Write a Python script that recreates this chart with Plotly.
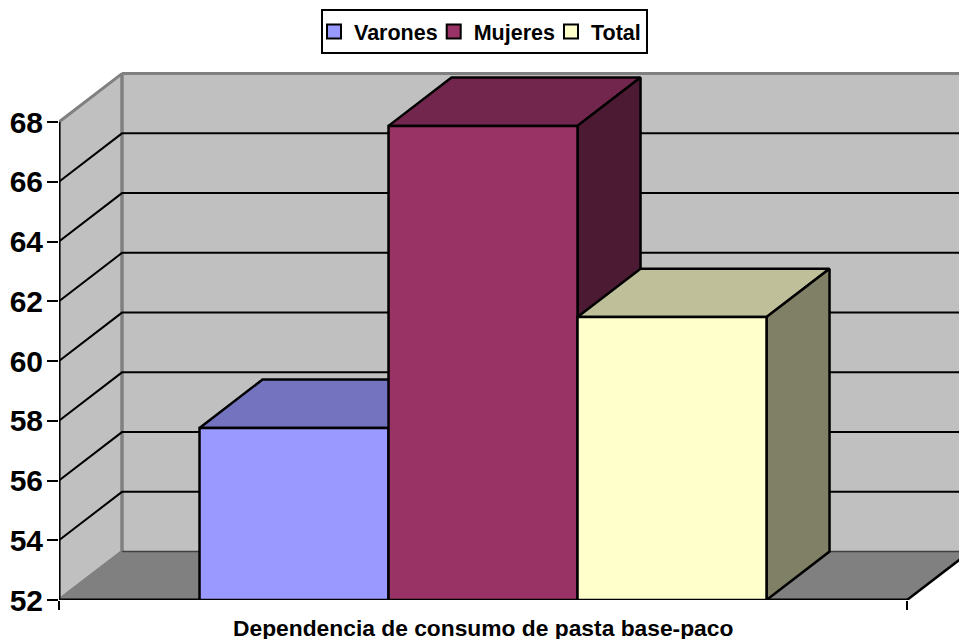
import plotly.graph_objects as go

# Data
series = ["Varones", "Mujeres", "Total"]
values = [57.76, 67.87, 61.47]
category = ["Dependencia de consumo de pasta base-paco"]
y_ticks = [52, 54, 56, 58, 60, 62, 64, 66, 68]

# Style
front_colors = ["#9999FF", "#993366", "#FFFFCC"]
top_colors = ["#7373BF", "#73264D", "#BFBF99"]
side_colors = ["#4D4D80", "#4D1A33", "#808066"]

# Scale of the fake 3-D box, in axis units
BASE = 52
AXIS_END = 4.487
X_MAX = 900 / 189
Y_MAX = 52 + 540 / 29.875
DX = 63 / 189
DY = 48.4 / 29.875
BAR_W = 1.0
FIRST = (AXIS_END - len(values) * BAR_W) / 2

fig = go.Figure()


def poly(xs, ys, fill, line="black", width=2.5):
    fig.add_trace(go.Scatter(
        x=xs + xs[:1], y=ys + ys[:1], mode="lines", fill="toself", fillcolor=fill,
        line=dict(color=line, width=width), showlegend=False, hoverinfo="skip",
        cliponaxis=False))


def seg(xs, ys, color="black", width=2):
    fig.add_trace(go.Scatter(
        x=xs, y=ys, mode="lines", line=dict(color=color, width=width),
        showlegend=False, hoverinfo="skip", cliponaxis=False))


top = y_ticks[-1]
# Back wall, left wall, floor
poly([DX, X_MAX + 0.3, X_MAX + 0.3, DX], [top + DY, top + DY, BASE + DY, BASE + DY], "#C0C0C0", "#C0C0C0", 0)
poly([0, DX, DX, 0], [BASE, BASE + DY, top + DY, top], "#C0C0C0", "#808080", 3)
poly([0, DX, AXIS_END + DX, AXIS_END], [BASE, BASE + DY, BASE + DY, BASE], "#808080", "#808080", 1)
seg([DX, X_MAX + 0.3], [top + DY, top + DY], "#808080", 3)
seg([DX, DX], [BASE + DY, top + DY], "#808080", 3)
seg([DX, X_MAX + 0.3], [BASE + DY, BASE + DY], "#404040", 1.5)
seg([0, DX], [BASE, BASE + DY], "#808080", 3)

# Gridlines on both walls
for t in y_ticks[1:-1]:
    seg([0, DX, X_MAX + 0.3], [t, t + DY, t + DY])

# Floor right edge and front axes
seg([AXIS_END, AXIS_END + DX], [BASE, BASE + DY], "black", 2.5)
seg([0, 0], [BASE, top], "black", 3)
seg([0, AXIS_END], [BASE, BASE], "black", 3)

# Bars
for i, v in enumerate(values):
    l = FIRST + i * BAR_W
    r = l + BAR_W
    poly([l, l + DX, r + DX, r], [v, v + DY, v + DY, v], top_colors[i])
    poly([r, r + DX, r + DX, r], [BASE, BASE + DY, v + DY, v], side_colors[i])
    poly([l, r, r, l], [BASE, BASE, v, v], front_colors[i])

# Legend entries
for name, c in zip(series, front_colors):
    fig.add_trace(go.Scatter(
        x=[None], y=[None], mode="markers", name=name,
        marker=dict(symbol="square", size=14, color=c, line=dict(color="black", width=2))))

fig.update_layout(
    width=959, height=639,
    margin=dict(l=59, r=0, t=60, b=39, pad=0),
    paper_bgcolor="white", plot_bgcolor="white",
    font=dict(family="Liberation Sans", color="black"),
    xaxis=dict(range=[0, X_MAX], tickvals=[0, AXIS_END], ticktext=["", ""], ticks="outside",
               ticklen=9, tickwidth=2, tickcolor="black", showgrid=False, zeroline=False, showline=False),
    yaxis=dict(range=[BASE, Y_MAX], tickvals=y_ticks, ticks="outside", ticklen=11, tickwidth=2,
               tickcolor="black", showgrid=False, zeroline=False, showline=False,
               ticklabelstandoff=-2,
               tickfont=dict(size=30, weight="bold", family="Liberation Sans")),
    showlegend=True,
    legend=dict(orientation="h", x=(321 - 59) / 900, y=(600 - 9) / 540, xanchor="left", yanchor="top",
                bgcolor="white", bordercolor="black", borderwidth=2, indentation=-9,
                font=dict(size=21.5, weight="bold", family="Liberation Sans")),
    annotations=[dict(x=AXIS_END / 2, y=BASE, xref="x", yref="y", text="<b>%s</b>" % category[0],
                      showarrow=False, yanchor="top", yshift=-13,
                      font=dict(size=22.8, family="Liberation Sans", color="black"))],
)

fig.write_html("out.html", config={"displayModeBar": False},
               post_script="document.body.style.margin='0';document.documentElement.style.overflow='hidden';")
